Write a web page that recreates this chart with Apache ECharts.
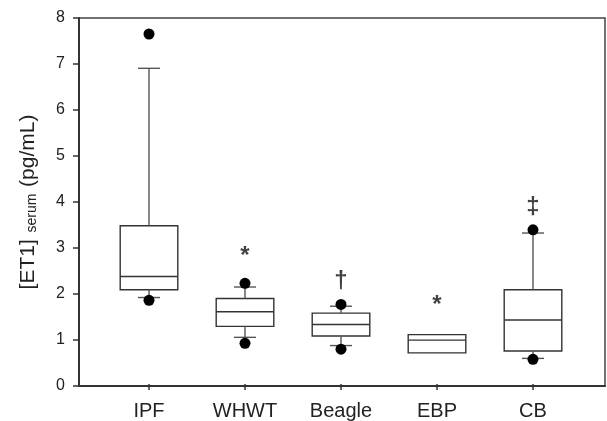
<!DOCTYPE html>
<html>
<head>
<meta charset="utf-8">
<script src="https://cdn.jsdelivr.net/npm/echarts@6/dist/echarts.min.js"></script>
<style>
  html, body { margin: 0; padding: 0; background: #fff; }
  #chart { width: 607px; height: 421px; }
</style>
</head>
<body>
<div id="chart"></div>
<script>
// Serum ET-1 by group: box (25th–75th percentile, median), whiskers, extreme points
const categories = ['IPF', 'WHWT', 'Beagle', 'EBP', 'CB'];
const whiskerLow  = [1.89, 1.02, 0.84, null, 0.56];
const q1          = [2.06, 1.26, 1.05, 0.68, 0.72];
const median      = [2.35, 1.58, 1.30, 0.96, 1.40];
const q3          = [3.46, 1.87, 1.55, 1.08, 2.06];
const whiskerHigh = [6.90, 2.12, 1.70, null, 3.30];
const pointHigh   = [7.65, 2.20, 1.74, null, 3.37];
const pointLow    = [1.83, 0.89, 0.76, null, 0.54];
// significance marks above groups
const marks  = ['', '*', '\u2020', '*', '\u2021'];
const markAt = [null, 2.80, 2.25, 1.72, 3.86];
const yTicks = [0, 1, 2, 3, 4, 5, 6, 7, 8];

const FONT = '"Liberation Sans", Arial, sans-serif';
const INK = '#222';

const boxData = categories.map((c, i) => [i, whiskerLow[i], q1[i], median[i], q3[i], whiskerHigh[i]]);
const points = [];
categories.forEach((c, i) => {
  if (pointHigh[i] != null) points.push([i, pointHigh[i]]);
  if (pointLow[i] != null) points.push([i, pointLow[i]]);
});
const markData = [];
categories.forEach((c, i) => {
  if (marks[i]) markData.push({ value: [i, markAt[i]], name: marks[i] });
});

function renderBox(params, api) {
  const i = api.value(0);
  const band = api.size([1, 0])[0];
  const half = band * 0.30;
  const cap = band * 0.115;
  const lo = api.value(1), a = api.value(2), m = api.value(3), b = api.value(4), hi = api.value(5);
  const pA = api.coord([i, a]);
  const pB = api.coord([i, b]);
  const pM = api.coord([i, m]);
  const x = pA[0];
  const boxStyle = { stroke: '#333', lineWidth: 1.4, fill: 'none' };
  const whiskStyle = { stroke: '#555', lineWidth: 1.4 };
  const children = [
    { type: 'rect', shape: { x: x - half, y: pB[1], width: half * 2, height: pA[1] - pB[1] }, style: boxStyle },
    { type: 'line', shape: { x1: x - half, y1: pM[1], x2: x + half, y2: pM[1] }, style: { stroke: '#333', lineWidth: 1.4 } }
  ];
  if (!isNaN(hi) && hi != null) {
    const pH = api.coord([i, hi]);
    children.push({ type: 'line', shape: { x1: x, y1: pB[1], x2: x, y2: pH[1] }, style: whiskStyle });
    children.push({ type: 'line', shape: { x1: x - cap, y1: pH[1], x2: x + cap, y2: pH[1] }, style: whiskStyle });
  }
  if (!isNaN(lo) && lo != null) {
    const pL = api.coord([i, lo]);
    children.push({ type: 'line', shape: { x1: x, y1: pA[1], x2: x, y2: pL[1] }, style: whiskStyle });
    children.push({ type: 'line', shape: { x1: x - cap, y1: pL[1], x2: x + cap, y2: pL[1] }, style: whiskStyle });
  }
  return { type: 'group', children: children };
}

const chart = echarts.init(document.getElementById('chart'), null, { renderer: 'canvas' });
chart.setOption({
  animation: false,
  backgroundColor: '#fff',
  textStyle: { fontFamily: FONT },
  grid: [
    { left: 79, right: 2, top: 18, bottom: 35, show: true, borderColor: '#444', borderWidth: 1.5, backgroundColor: 'transparent' },
    { left: 101, width: 480, top: 18, bottom: 35 }
  ],
  xAxis: [
    { gridIndex: 0, type: 'value', min: 0, max: 1, splitLine: { show: false },
      axisLine: { show: true, lineStyle: { color: '#333', width: 2 } },
      axisTick: { show: false }, axisLabel: { show: false } },
    { gridIndex: 1, type: 'category', data: categories, boundaryGap: true,
      axisLine: { show: false },
      axisTick: { show: true, alignWithLabel: true, length: 6, lineStyle: { color: '#333', width: 1.5 } },
      axisLabel: { color: INK, fontSize: 20, margin: 17, fontFamily: FONT } }
  ],
  yAxis: [
    { gridIndex: 0, type: 'value', min: yTicks[0], max: yTicks[yTicks.length - 1], interval: 1,
      splitLine: { show: false },
      axisLine: { show: true, lineStyle: { color: '#333', width: 2 } },
      axisTick: { show: true, length: 6, lineStyle: { color: '#333', width: 1.5 } },
      axisLabel: { color: INK, fontSize: 16, margin: 14, fontFamily: FONT },
      name: '{a|[ET1]}  {s|serum}  {a|(pg/mL)}',
      nameLocation: 'middle', nameGap: 40, nameRotate: 90,
      nameTextStyle: {
        rich: {
          a: { fontSize: 21, color: INK, fontFamily: FONT, lineHeight: 23, verticalAlign: 'bottom' },
          s: { fontSize: 14, color: INK, fontFamily: FONT, lineHeight: 15, verticalAlign: 'bottom' }
        }
      } },
    { gridIndex: 1, type: 'value', min: yTicks[0], max: yTicks[yTicks.length - 1], show: false }
  ],
  series: [
    { type: 'custom', xAxisIndex: 1, yAxisIndex: 1, renderItem: renderBox,
      encode: { x: 0, y: [1, 2, 3, 4, 5] }, data: boxData, z: 2 },
    { type: 'scatter', xAxisIndex: 1, yAxisIndex: 1, data: points, symbol: 'circle', symbolSize: 11,
      itemStyle: { color: '#000', opacity: 1 }, z: 3 },
    { type: 'scatter', xAxisIndex: 1, yAxisIndex: 1, data: markData, symbolSize: 0,
      label: { show: true, position: 'inside', formatter: p => p.name, color: '#111',
               fontSize: 24, fontWeight: 'bold', fontFamily: FONT }, z: 3 }
  ]
});
</script>
</body>
</html>
